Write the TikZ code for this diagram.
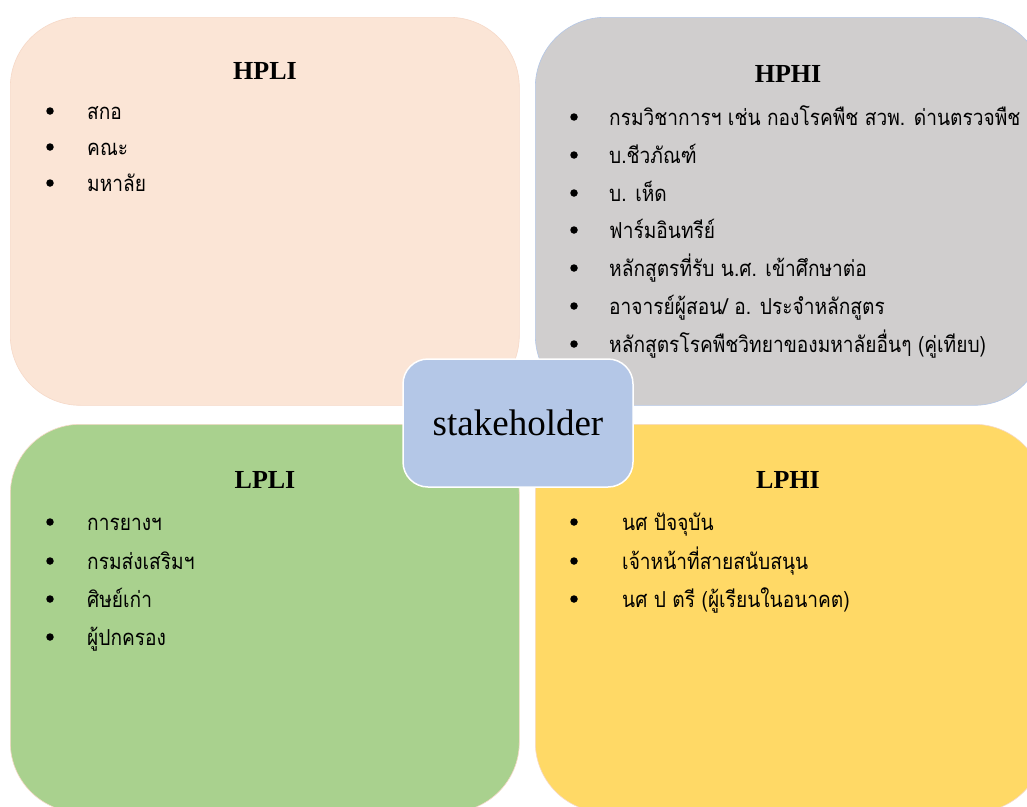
\documentclass[tikz,border=0pt]{standalone}
\usepackage{fontspec}
\setmainfont{Liberation Serif}
\newfontfamily\thai[Script=Thai, FakeStretch=0.87]{Loma}
\definecolor{peach}{HTML}{FBE5D6}
\definecolor{peachline}{HTML}{F6D9C8}
\definecolor{greybox}{HTML}{D0CECE}
\definecolor{bluebox}{HTML}{B4C7E7}
\definecolor{greenbox}{HTML}{A9D18E}
\definecolor{yellowbox}{HTML}{FFD966}
\tikzset{
  quad/.style={draw, line width=0.6pt, rounded corners=70pt, minimum width=509pt, minimum height=388pt, anchor=north west, inner sep=0pt},
  title/.style={font=\bfseries\fontsize{26}{30}\selectfont, anchor=base},
  item/.style={font=\thai\fontsize{22}{26}\selectfont, anchor=base west, inner sep=0pt},
  dot/.style={circle, fill=black, inner sep=0pt, minimum size=7.5pt},
  center/.style={draw=white, line width=1.5pt, fill=bluebox, rounded corners=25pt, minimum width=230pt, minimum height=128pt, font=\fontsize{37}{40}\selectfont}
}
\begin{document}
\begin{tikzpicture}[x=1pt,y=-1pt]
\useasboundingbox (0,0) rectangle (1027,806);
\clip (0,0) rectangle (1027,806);
\fill[white] (0,0) rectangle (1027,806);
% quadrants
\node[quad, fill=peach, draw=peachline] (hpli) at (10,17) {};
\node[quad, fill=greybox, draw=bluebox] (hphi) at (535,17) {};
\node[quad, fill=greenbox, draw=peachline] (lpli) at (10,424) {};
\node[quad, fill=yellowbox, draw=peachline] (lphi) at (535,424) {};
% titles
\node[title] (thpli) at (265,79) {HPLI};
\node[title] (thphi) at (788,82) {HPHI};
\node[title] (tlpli) at (265,488) {LPLI};
\node[title] (tlphi) at (788,488) {LPHI};
% HPLI items
\foreach \y/\t [count=\i] in {111/สกอ, 147/คณะ, 183/มหาลัย}{
  \node[dot] (a\i) at (50,\y) {};
  \node[item] (at\i) at (87,\y+8) {\t};
}
% HPHI items
\foreach \y/\t [count=\i] in {117/{กรมวิชาการฯ เช่น กองโรคพืช สวพ. ด่านตรวจพืช}, 155/บ.ชีวภัณฑ์, 193/บ. เห็ด, 230/ฟาร์มอินทรีย์, 268/{หลักสูตรที่รับ น.ศ. เข้าศึกษาต่อ}, 306/{อาจารย์ผู้สอน/ อ. ประจำหลักสูตร}, 344/{หลักสูตรโรคพืชวิทยาของมหาลัยอื่นๆ (คู่เทียบ)}}{
  \node[dot] (b\i) at (574,\y) {};
  \node[item] (bt\i) at (609,\y+8) {\t};
}
% LPLI items
\foreach \y/\t [count=\i] in {522/การยางฯ, 561/กรมส่งเสริมฯ, 599/ศิษย์เก่า, 637/ผู้ปกครอง}{
  \node[dot] (c\i) at (50,\y) {};
  \node[item] (ct\i) at (87,\y+8) {\t};
}
% LPHI items
\foreach \y/\t [count=\i] in {522/{นศ ปัจจุบัน}, 561/เจ้าหน้าที่สายสนับสนุน, 599/{นศ ป ตรี (ผู้เรียนในอนาคต)}}{
  \node[dot] (d\i) at (574,\y) {};
  \node[item] (dt\i) at (622,\y+8) {\t};
}
% centre
\node[center] (stake) at (518,423) {stakeholder};
\end{tikzpicture}
\end{document}
